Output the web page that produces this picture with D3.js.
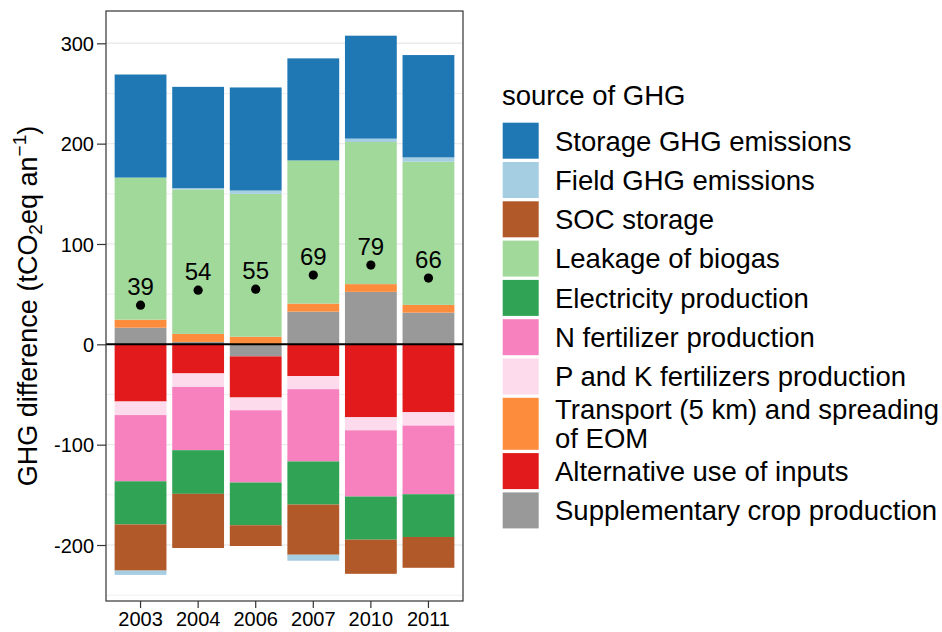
<!DOCTYPE html>
<html>
<head>
<meta charset="utf-8">
<script src="https://cdn.jsdelivr.net/npm/d3@7"></script>
<style>
  html, body { margin: 0; padding: 0; background: #fff; }
  svg { display: block; font-family: "Liberation Sans", Arial, sans-serif; }
</style>
</head>
<body>
<svg id="chart" width="942" height="632"></svg>
<script>
// Years on the x axis
const years = ["2003", "2004", "2006", "2007", "2010", "2011"];

// GHG sources, in legend order
const sources = [
  "Storage GHG emissions",
  "Field GHG emissions",
  "SOC storage",
  "Leakage of biogas",
  "Electricity production",
  "N fertilizer production",
  "P and K fertilizers production",
  "Transport (5 km) and spreading of EOM",
  "Alternative use of inputs",
  "Supplementary crop production"
];

// Legend text, wrapped
const legendLines = [
  ["Storage GHG emissions"],
  ["Field GHG emissions"],
  ["SOC storage"],
  ["Leakage of biogas"],
  ["Electricity production"],
  ["N fertilizer production"],
  ["P and K fertilizers production"],
  ["Transport (5 km) and spreading", "of EOM"],
  ["Alternative use of inputs"],
  ["Supplementary crop production"]
];

// GHG difference per source (tCO2eq per year), one value per year
const storageGHG     = [102.7, 101.0, 102.7, 101.7, 102.6, 102.0];
const fieldGHG       = [-4.3, 1.2, 3.3, -6.0, 3.4, 4.3];
const socStorage     = [-46.0, -54.0, -20.7, -50.0, -34.0, -30.7];
const leakageBiogas  = [141.6, 144.0, 142.4, 142.7, 141.6, 142.7];
const electricity    = [-43.0, -43.5, -42.6, -43.0, -43.0, -42.6];
const nFertilizer    = [-66.0, -63.0, -72.0, -72.0, -66.0, -68.4];
const pkFertilizer   = [-13.5, -13.5, -12.7, -13.0, -13.0, -13.3];
const transportEOM   = [8.0, 8.0, 7.6, 8.0, 7.7, 7.7];
const alternativeUse = [-57.0, -29.0, -41.0, -31.7, -72.7, -67.7];
const supplementary  = [16.6, 2.4, -12.0, 32.6, 52.3, 31.6];

// Net balance per year (dot + label)
const netBalance = [39, 54, 55, 69, 79, 66];

// Tick values
const yTicks = [-200, -100, 0, 100, 200, 300];
const yMinorTicks = [-250, -150, -50, 50, 150, 250];

// Fill colours, in legend order
const palette = ["#1F78B4", "#A6CEE3", "#B15928", "#A1D99B", "#31A354",
                 "#F781BF", "#FDDAEC", "#FD8D3C", "#E31A1C", "#999999"];

const seriesValues = [storageGHG, fieldGHG, socStorage, leakageBiogas, electricity,
                      nFertilizer, pkFertilizer, transportEOM, alternativeUse, supplementary];

// Build one row per year for the stack layout
const rows = years.map((yr, i) => {
  const r = { year: yr };
  sources.forEach((s, k) => { r[s] = seriesValues[k][i]; });
  return r;
});

const svg = d3.select("#chart");
const panel = { left: 106, right: 463, top: 11, bottom: 601 };
const FONT = "\"Liberation Sans\", Arial, sans-serif";

const x = d3.scaleBand()
  .domain(years)
  .range([panel.left, panel.right])
  .paddingInner(0.1)
  .paddingOuter(0.15);

const y = d3.scaleLinear()
  .domain([-255.8, 332.2])
  .range([panel.bottom, panel.top]);

const color = d3.scaleOrdinal().domain(sources).range(palette);

// Grid
const grid = svg.append("g");
grid.selectAll("line.minor").data(yMinorTicks).join("line")
  .attr("class", "minor")
  .attr("x1", panel.left).attr("x2", panel.right)
  .attr("y1", d => y(d)).attr("y2", d => y(d))
  .attr("stroke", "#EBEBEB").attr("stroke-width", 0.8);
grid.selectAll("line.major").data(yTicks).join("line")
  .attr("class", "major")
  .attr("x1", panel.left).attr("x2", panel.right)
  .attr("y1", d => y(d)).attr("y2", d => y(d))
  .attr("stroke", "#EBEBEB").attr("stroke-width", 1.4);

// Stacked bars: last source sits next to zero, positives up and negatives down
const stacked = d3.stack()
  .keys(sources.slice().reverse())
  .offset(d3.stackOffsetDiverging)(rows);

svg.append("g").selectAll("g").data(stacked).join("g")
  .attr("fill", d => color(d.key))
  .selectAll("rect").data(d => d).join("rect")
  .attr("x", d => x(d.data.year))
  .attr("width", x.bandwidth())
  .attr("y", d => y(Math.max(d[0], d[1])))
  .attr("height", d => Math.abs(y(d[0]) - y(d[1])));

// Zero line
svg.append("line")
  .attr("x1", panel.left).attr("x2", panel.right)
  .attr("y1", y(0)).attr("y2", y(0))
  .attr("stroke", "#000").attr("stroke-width", 2);

// Net balance points and labels
const net = svg.append("g");
net.selectAll("circle").data(netBalance).join("circle")
  .attr("cx", (d, i) => x(years[i]) + x.bandwidth() / 2)
  .attr("cy", d => y(d))
  .attr("r", 4.6)
  .attr("fill", "#000");
net.selectAll("text").data(netBalance).join("text")
  .attr("x", (d, i) => x(years[i]) + x.bandwidth() / 2)
  .attr("y", d => y(d) - 10)
  .attr("text-anchor", "middle")
  .attr("font-size", 24)
  .attr("fill", "#000")
  .text(d => d);

// Panel border
svg.append("rect")
  .attr("x", panel.left).attr("y", panel.top)
  .attr("width", panel.right - panel.left)
  .attr("height", panel.bottom - panel.top)
  .attr("fill", "none").attr("stroke", "#333").attr("stroke-width", 1.2);

// Axes
const yAxis = svg.append("g")
  .attr("transform", `translate(${panel.left},0)`)
  .call(d3.axisLeft(y).tickValues(yTicks).tickSize(9).tickPadding(3).tickFormat(d => String(d)));
const xAxis = svg.append("g")
  .attr("transform", `translate(0,${panel.bottom})`)
  .call(d3.axisBottom(x).tickSize(7).tickPadding(5));
[yAxis, xAxis].forEach(ax => {
  ax.select(".domain").remove();
  ax.selectAll(".tick line").attr("stroke", "#333").attr("stroke-width", 1.2);
  ax.selectAll(".tick text").attr("fill", "#000").attr("font-size", 20).attr("font-family", FONT);
});
yAxis.selectAll(".tick text").attr("dy", "0.36em");
xAxis.selectAll(".tick text").attr("dy", "0").attr("y", 25);

// Y axis title with subscript and superscript
const yTitle = svg.append("text")
  .attr("transform", `translate(37,${(panel.top + panel.bottom) / 2}) rotate(-90)`)
  .attr("text-anchor", "middle")
  .attr("font-size", 27)
  .attr("fill", "#000");
yTitle.append("tspan").text("GHG difference (tCO");
yTitle.append("tspan").attr("font-size", 19).attr("dy", 5).text("2");
yTitle.append("tspan").attr("dy", -5).text("eq an");
yTitle.append("tspan").attr("font-size", 19).attr("dy", -11).text("\u22121");
yTitle.append("tspan").attr("dy", 11).text(")");

// Legend
const legend = svg.append("g");
legend.append("text")
  .attr("x", 502).attr("y", 105)
  .attr("font-size", 27.5).attr("fill", "#000")
  .text("source of GHG");

let keyTop = 122.7;
sources.forEach((s, i) => {
  const lines = legendLines[i];
  const h = lines.length > 1 ? 52 : 36;
  legend.append("rect")
    .attr("x", 502.7).attr("y", keyTop)
    .attr("width", 36).attr("height", h)
    .attr("fill", color(s));
  const cy = keyTop + h / 2;
  const lineGap = 29.3;
  const first = cy - (lines.length - 1) * lineGap / 2 + 9.8;
  lines.forEach((ln, j) => {
    legend.append("text")
      .attr("x", 555).attr("y", first + j * lineGap)
      .attr("font-size", 27.5).attr("fill", "#000")
      .text(ln);
  });
  keyTop += h + 3.3;
});
</script>
</body>
</html>
